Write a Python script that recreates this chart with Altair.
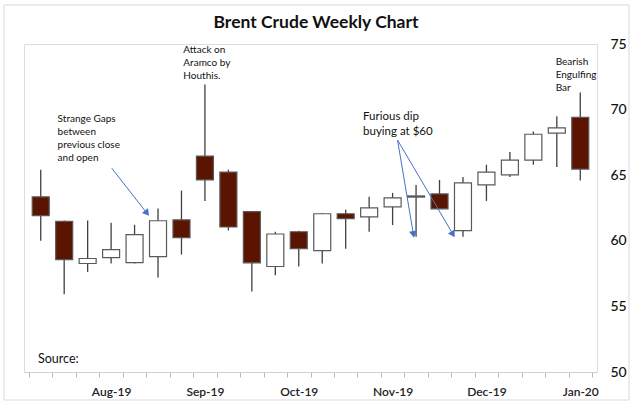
import altair as alt
import pandas as pd
import math

# Weekly candles (index 0..23)
opens  = [63.35, 61.48, 58.27, 58.72, 58.34, 58.80, 61.60, 66.46, 65.24, 62.23, 58.04, 60.69,
          59.25, 62.06, 61.83, 62.59, 63.33, 63.57, 60.77, 64.26, 65.02, 66.15, 68.20, 69.41]
closes = [61.91, 58.57, 58.65, 59.33, 60.47, 61.53, 60.24, 64.64, 61.05, 58.32, 60.52, 59.40,
          62.06, 61.68, 62.51, 63.27, 63.42, 62.44, 64.41, 65.24, 66.15, 68.12, 68.60, 65.47]
highs  = [65.42, 61.55, 61.55, 61.38, 61.22, 62.46, 63.83, 71.92, 65.42, 62.23, 60.69, 60.77,
          62.11, 62.36, 63.35, 63.65, 64.26, 64.64, 64.86, 65.80, 66.76, 68.33, 69.49, 71.31]
lows   = [60.01, 55.92, 57.63, 58.27, 58.27, 57.20, 58.95, 63.04, 60.79, 56.14, 57.38, 58.04,
          58.27, 59.40, 60.69, 61.20, 60.31, 62.44, 60.31, 63.04, 64.86, 65.80, 65.62, 64.59]
weeks = list(range(len(opens)))

month_labels = ["Aug-19", "Sep-19", "Oct-19", "Nov-19", "Dec-19", "Jan-20"]
month_pos = [3, 7, 11, 15, 19, 23]
y_ticks = [50, 55, 60, 65, 70, 75]

# annotations (data coordinates)
note_texts = [["Attack on", "Aramco by", "Houthis."],
              ["Strange Gaps", "between", "previous close", "and open"],
              ["Bearish", "Engulfing", "Bar"]]
note_x = [6.08, 0.72, 21.95]
note_y = [74.54, 69.3, 73.63]

dip_text = [["Furious dip", "buying at $60"]]
dip_x = [13.74]
dip_y = [69.45]

arrow_x1 = [3.03, 15.21, 15.21]
arrow_y1 = [65.53, 67.68, 67.68]
arrow_x2 = [4.50, 15.88, 17.55]
arrow_y2 = [62.17, 60.57, 60.57]

df = pd.DataFrame({"week": weeks, "open": opens, "close": closes, "high": highs, "low": lows})

W, H = 573, 328
x_dom = [-0.5, len(weeks) - 0.5]
y_dom = [50, 75]
px_per_x = W / (x_dom[1] - x_dom[0])
px_per_y = H / (y_dom[1] - y_dom[0])

angles = []
for a, b, c, d in zip(arrow_x1, arrow_y1, arrow_x2, arrow_y2):
    dx = (c - a) * px_per_x
    dy = -(d - b) * px_per_y  # screen, down positive
    angles.append(math.degrees(math.atan2(dx, -dy)) % 360)  # 0 = pointing up
arrows = pd.DataFrame({"x1": arrow_x1, "y1": arrow_y1, "x2": arrow_x2, "y2": arrow_y2, "ang": angles})

boundaries = [i - 0.5 for i in range(len(weeks) + 1)]
label_expr = " : ".join([f"datum.value == {p} ? '{m}'" for p, m in zip(month_pos, month_labels)]) + " : ''"

FONT = "Lato"

xs = alt.Scale(domain=x_dom, nice=False, zero=False)
ys = alt.Scale(domain=y_dom, nice=False, zero=False)

x_axis = alt.Axis(values=boundaries + month_pos, labelExpr=label_expr, title=None, grid=False,
                  domainColor="#cfcfcf", tickSize=5,
                  tickColor={"condition": {"test": "datum.value % 1 != 0", "value": "#b8b8b8"},
                             "value": "transparent"},
                  labelFont=FONT, labelFontSize=12, labelFontWeight=600, labelColor="#222222",
                  labelPadding=9, labelFlush=False, labelOverlap=False, labelBound=False)
y_axis = alt.Axis(orient="right", values=y_ticks, title=None, grid=False, domain=False, ticks=False,
                  labelFont=FONT, labelFontSize=14, labelFontWeight=500, labelColor="#111111",
                  labelPadding=13, labelOverlap=False)


def X(field):
    return alt.X(field, type="quantitative", scale=xs, axis=x_axis)


def Y(field):
    return alt.Y(field, type="quantitative", scale=ys, axis=y_axis)


base = alt.Chart(df)
wicks = base.mark_rule(color="#404040", strokeWidth=1.3).encode(
    x=X("week"), y=Y("low"), y2="high:Q",
)
bodies = base.mark_bar(size=17, stroke="#595959", strokeWidth=1.2).encode(
    x=X("week"), y=Y("open"), y2="close:Q",
    fill=alt.condition("datum.close < datum.open", alt.value("#5a1400"), alt.value("#ffffff")),
)

notes = alt.Chart(pd.DataFrame({"t": note_texts, "x": note_x, "y": note_y})).mark_text(
    align="left", baseline="middle", font=FONT, fontSize=10, lineHeight=13, color="#111111"
).encode(x=X("x"), y=Y("y"), text="t")

dip = alt.Chart(pd.DataFrame({"t": dip_text, "x": dip_x, "y": dip_y})).mark_text(
    align="left", baseline="middle", font=FONT, fontSize=11.5, lineHeight=15, color="#111111"
).encode(x=X("x"), y=Y("y"), text="t")

arrow_lines = alt.Chart(arrows).mark_rule(color="#4472c4", strokeWidth=1).encode(
    x=X("x1"), y=Y("y1"), x2="x2:Q", y2="y2:Q"
)
arrow_heads = alt.Chart(arrows).mark_point(shape="triangle", filled=True, size=60, color="#4472c4",
                                           opacity=1).encode(
    x=X("x2"), y=Y("y2"), angle=alt.Angle("ang:Q", scale=None)
)

source = alt.Chart(pd.DataFrame({"t": ["Source:"]})).mark_text(
    align="left", baseline="middle", font=FONT, fontSize=12.5, color="#111111"
).encode(text="t", x=alt.value(14), y=alt.value(315))

title = alt.Chart(pd.DataFrame({"t": ["Brent Crude Weekly Chart"]})).mark_text(
    align="center", baseline="middle", font=FONT, fontSize=17.5, fontWeight="bold", color="#111111"
).encode(text="t", x=alt.value(292), y=alt.value(-21))

frame = alt.Chart(pd.DataFrame({"a": [0]})).mark_rect(fill="transparent", stroke="#d9d9d9",
                                                       strokeWidth=1).encode(
    x=alt.value(-20), x2=alt.value(605), y=alt.value(-39), y2=alt.value(356)
)

chart = alt.layer(frame, wicks, bodies, arrow_lines, arrow_heads, notes, dip, source, title).properties(
    width=W, height=H,
    autosize=alt.AutoSizeParams(type="none"),
    padding={"left": 24, "top": 44, "right": 37, "bottom": 34},
).configure_view(stroke="transparent", strokeWidth=0, strokeOpacity=0).configure(background="white")

chart.save("out.html", embed_options={"renderer": "svg", "actions": False})
